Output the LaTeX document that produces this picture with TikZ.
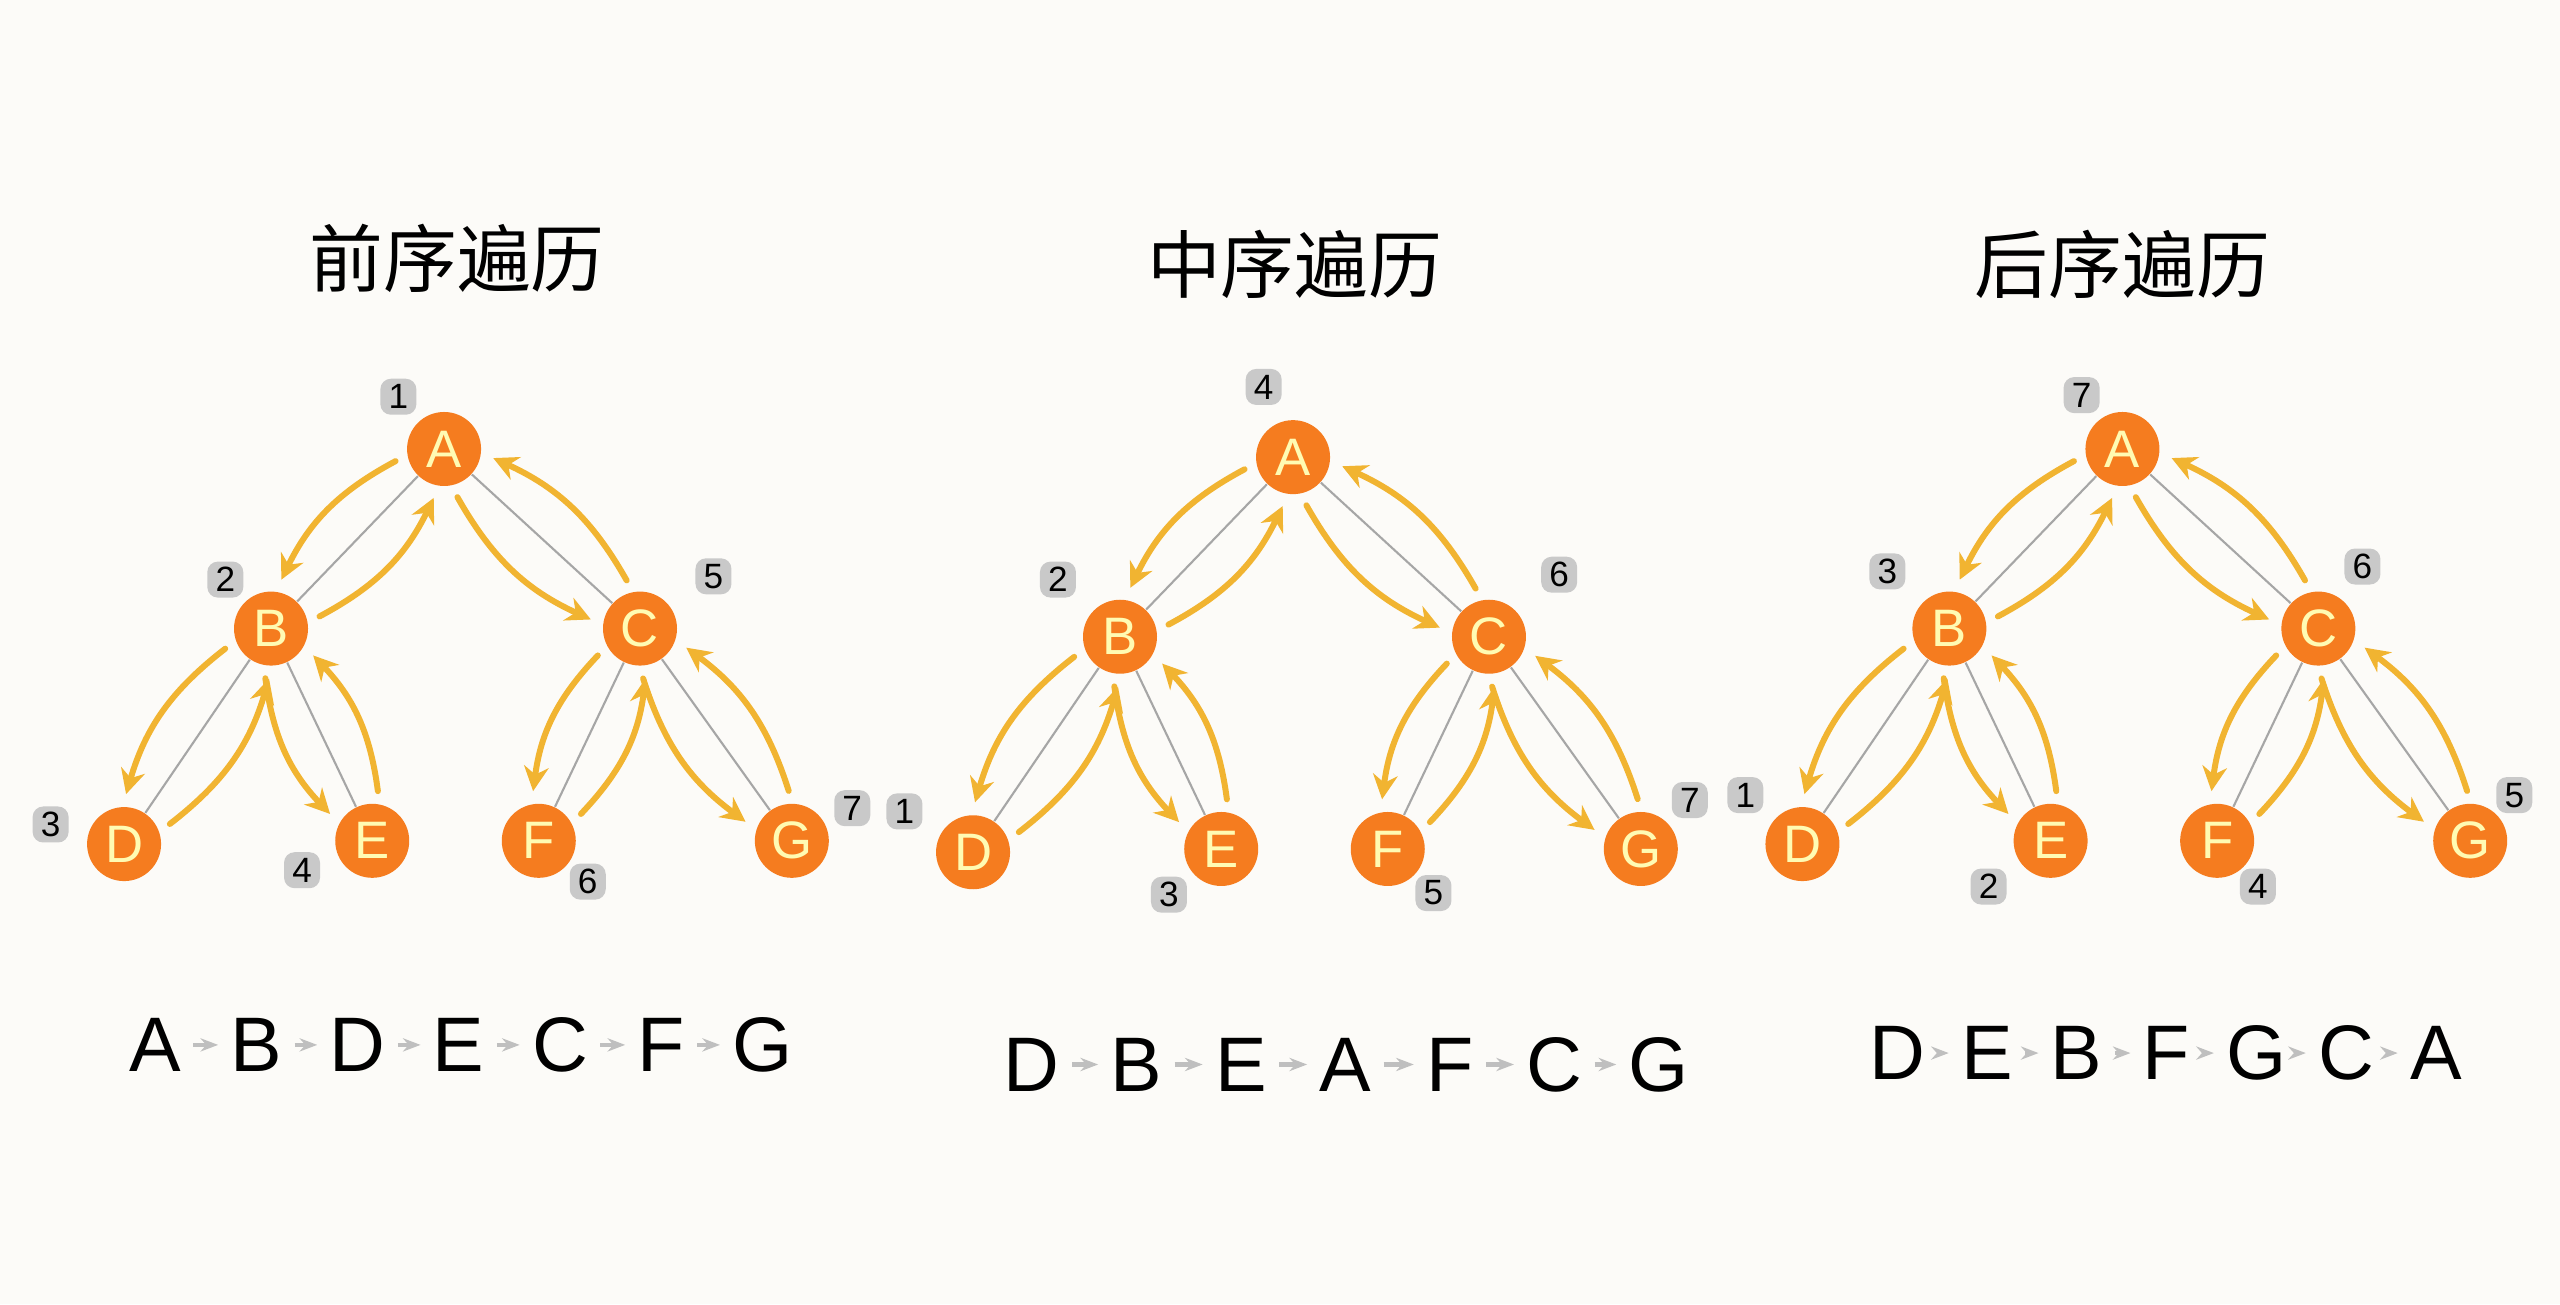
\documentclass[tikz,border=0pt]{standalone}
\usepackage{fontspec}
\setmainfont{Liberation Sans}
\newfontfamily\cjk{Noto Sans CJK SC}
\usetikzlibrary{calc,arrows.meta}
\definecolor{nodeorange}{HTML}{F57C1F}
\definecolor{travyellow}{HTML}{F1B431}
\definecolor{badgegray}{HTML}{C9C9C9}
\definecolor{paper}{HTML}{FCFBF8}
\tikzset{
  vert/.style={circle,fill=nodeorange,minimum size=0.74cm,inner sep=0pt,
    text=yellow!30,font=\fontsize{15}{15}\selectfont},
  edge/.style={gray!70,line width=0.6pt},
  trav/.style={travyellow,line width=1.7pt,line cap=round,-{Stealth[length=7pt,width=7pt]}},
  badge/.style={fill=badgegray,rounded corners=3pt,minimum size=0.36cm,inner sep=0pt,
    font=\fontsize{10}{10}\selectfont},
  title/.style={font=\cjk\fontsize{21}{24}\selectfont},
  seq/.style={font=\fontsize{22}{24}\selectfont},
  seqarrow/.style={gray!50,line width=1.2pt,-{Stealth[length=5pt]}}
}
% one pass down and one pass up beside an edge
\newcommand{\walk}[2]{
  \draw[edge] (#1) -- (#2);
  \draw[trav] ($(#1)!0.5cm!-32:(#2)$) to[bend right=18] ($(#2)!0.5cm!32:(#1)$);
  \draw[trav] ($(#2)!0.5cm!-32:(#1)$) to[bend right=18] ($(#1)!0.5cm!32:(#2)$);
}
% tree #1 with A at (#2,#3)
\newcommand{\bintree}[3]{
  \begin{scope}[shift={(#2,#3)}]
    \node[vert] (A#1) at (0,0) {A};
    \node[vert] (B#1) at (-106,110) {B};
    \node[vert] (C#1) at (120,110) {C};
    \node[vert] (D#1) at (-196,242) {D};
    \node[vert] (E#1) at (-44,240) {E};
    \node[vert] (F#1) at (58,240) {F};
    \node[vert] (G#1) at (213,240) {G};
  \end{scope}
  \walk{A#1}{B#1} \walk{A#1}{C#1}
  \walk{B#1}{D#1} \walk{B#1}{E#1}
  \walk{C#1}{F#1} \walk{C#1}{G#1}
}
% sequence #1 starting at (#2,#3), spacing #4, letters #5
\newcommand{\order}[5]{
  \foreach \l [count=\i] in {#5}
    \node[seq] (s#1-\i) at ({#2+(\i-1)*#4},#3) {\l};
  \foreach \i [evaluate=\i as \j using int(\i+1)] in {1,...,6}
    \draw[seqarrow] (s#1-\i.east) -- (s#1-\j.west);
}

\begin{document}
\begin{tikzpicture}[x=0.01633cm,y=-0.01633cm]
\fill[paper] (0,0) rectangle (1568,799);
\useasboundingbox (0,0) rectangle (1568,799);

\node[title] (t1) at (280,158) {前序遍历};
\node[title] (t2) at (793,162) {中序遍历};
\node[title] (t3) at (1300,162) {后序遍历};

\bintree{1}{272}{275}
\bintree{2}{792}{280}
\bintree{3}{1300}{275}

% visiting order
\node[badge] (n1a) at ($(A1)+(-28,-32)$) {1};
\node[badge] (n1b) at ($(B1)+(-28,-30)$) {2};
\node[badge] (n1d) at ($(D1)+(-45,-12)$) {3};
\node[badge] (n1e) at ($(E1)+(-43,18)$) {4};
\node[badge] (n1c) at ($(C1)+(45,-32)$) {5};
\node[badge] (n1f) at ($(F1)+(30,25)$) {6};
\node[badge] (n1g) at ($(G1)+(37,-20)$) {7};

\node[badge] (n2d) at ($(D2)+(-42,-25)$) {1};
\node[badge] (n2b) at ($(B2)+(-38,-35)$) {2};
\node[badge] (n2e) at ($(E2)+(-32,28)$) {3};
\node[badge] (n2a) at ($(A2)+(-18,-43)$) {4};
\node[badge] (n2f) at ($(F2)+(28,27)$) {5};
\node[badge] (n2c) at ($(C2)+(43,-38)$) {6};
\node[badge] (n2g) at ($(G2)+(30,-30)$) {7};

\node[badge] (n3d) at ($(D3)+(-35,-30)$) {1};
\node[badge] (n3e) at ($(E3)+(-38,28)$) {2};
\node[badge] (n3b) at ($(B3)+(-38,-35)$) {3};
\node[badge] (n3f) at ($(F3)+(25,28)$) {4};
\node[badge] (n3g) at ($(G3)+(27,-28)$) {5};
\node[badge] (n3c) at ($(C3)+(27,-38)$) {6};
\node[badge] (n3a) at ($(A3)+(-25,-33)$) {7};

\order{1}{95}{640}{62}{A,B,D,E,C,F,G}
\order{2}{632}{652}{64}{D,B,E,A,F,C,G}
\order{3}{1162}{645}{55}{D,E,B,F,G,C,A}
\end{tikzpicture}
\end{document}
